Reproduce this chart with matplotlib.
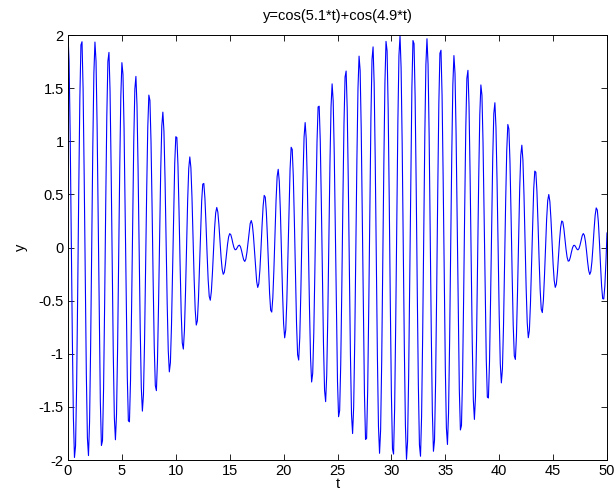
import numpy as np
import matplotlib.pyplot as plt

# the plotted signal is the one named in the title: y = cos(5.1*t) + cos(4.9*t)
FREQUENCIES = [5.1, 4.9]
T_START, T_STOP, T_STEP = 0.0, 50.0, 0.1

x_ticks = [0, 5, 10, 15, 20, 25, 30, 35, 40, 45, 50]
y_ticks = [-2, -1.5, -1, -0.5, 0, 0.5, 1, 1.5, 2]
y_tick_labels = ["-2", "-1.5", "-1", "-0.5", "0", "0.5", "1", "1.5", "2"]

t = np.arange(T_START, T_STOP + T_STEP / 2, T_STEP)
y = sum(np.cos(w * t) for w in FREQUENCIES)

plt.rcParams["font.family"] = ["Liberation Sans", "DejaVu Sans"]

fig = plt.figure(figsize=(6.14, 5.0), dpi=100)
ax = fig.add_axes([68 / 614, 40 / 500, 539 / 614, 425 / 500])
ax.plot(t, y, color="#0000ff", lw=0.8)

ax.set_xlim(0, 50)
ax.set_ylim(-2, 2)
ax.set_xticks(x_ticks)
ax.set_yticks(y_ticks)
ax.set_yticklabels(y_tick_labels)
ax.tick_params(direction="in", top=True, right=True, length=4, width=0.6,
               labelsize=10.5, pad=3)
for spine in ax.spines.values():
    spine.set_linewidth(0.7)

ax.set_title("y=cos(5.1*t)+cos(4.9*t)", fontsize=10.5, pad=11)
ax.set_xlabel("t", fontsize=10.5, labelpad=-1)
ax.set_ylabel("y", fontsize=10.5, labelpad=8)

fig.savefig("out.png", dpi=100)
